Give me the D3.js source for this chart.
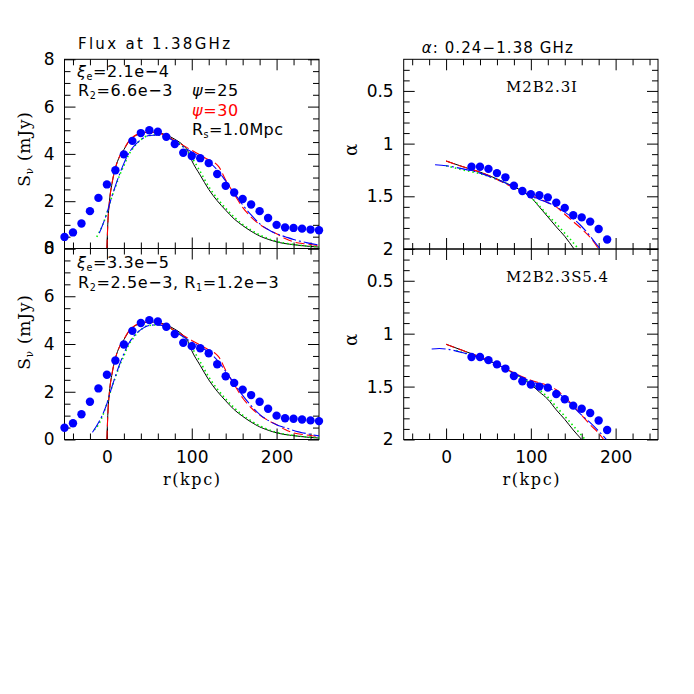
<!DOCTYPE html>
<html>
<head>
<meta charset="utf-8">
<script src="https://cdn.jsdelivr.net/npm/d3@7"></script>
<style>
  body { margin: 0; background: #fff; }
</style>
</head>
<body>
<div id="chart"></div>
<script>
// ---- data ----
// observed profile (blue dots), r in kpc
const fluxR = [-50,-40,-30,-20,-10,0,10,20,30,40,50,60,70,80,90,100,110,120,130,140,150,160,170,180,190,200,210,220,230,240,250];
const fluxObs = [0.49,0.68,1.06,1.58,2.14,2.71,3.31,3.98,4.55,4.88,5.0,4.94,4.72,4.42,4.05,3.91,3.82,3.61,3.15,2.65,2.37,2.09,1.86,1.58,1.29,1.0,0.89,0.87,0.84,0.8,0.77];

const alphaR = [30,40,50,60,70,80,90,100,110,120,130,140,150,160,170,180,190];
const alphaObsTop = [1.22,1.22,1.24,1.28,1.32,1.40,1.45,1.48,1.49,1.51,1.56,1.61,1.68,1.70,1.74,1.81,1.91];
const alphaObsBot = [1.22,1.22,1.25,1.29,1.33,1.40,1.45,1.48,1.50,1.51,1.57,1.62,1.68,1.71,1.75,1.82,1.91];

// model curves, [r, S] pairs
const fluxBlack = [[0,0],[1,1.0],[3,2.0],[6,2.75],[10,3.4],[15,3.9],[20,4.18],[25,4.48],[30,4.68],[40,4.86],[50,4.92],[60,4.9],[70,4.8],[80,4.62],[90,4.36],[95,4.15],[100,3.72],[110,3.1],[120,2.5],[130,2.02],[140,1.62],[150,1.25],[160,0.97],[170,0.73],[180,0.53],[190,0.39],[200,0.28],[220,0.16],[250,0.06]];
const fluxGreenTop = [[-12,0.49],[-5,1.0],[0,1.5],[5,2.1],[10,2.6],[15,3.1],[20,3.5],[25,3.92],[30,4.2],[40,4.6],[50,4.78],[60,4.8],[70,4.72],[80,4.55],[90,4.3],[100,3.85],[110,3.25],[120,2.62],[130,2.12],[140,1.7],[150,1.33],[160,1.02],[170,0.78],[180,0.57],[190,0.42],[200,0.3],[220,0.17],[250,0.07]];
const fluxRed = [[0,0],[1,1.0],[3,2.0],[6,2.75],[10,3.4],[15,3.9],[20,4.2],[25,4.5],[30,4.7],[40,4.88],[50,4.93],[60,4.9],[70,4.76],[80,4.56],[90,4.36],[100,4.15],[110,3.95],[120,3.75],[128,3.6],[132,3.45],[140,2.9],[150,2.3],[160,1.74],[170,1.33],[180,1.02],[190,0.8],[200,0.62],[210,0.42],[220,0.28],[235,0.19],[250,0.12]];
const fluxBlueTop = [[-9,0.65],[-5,1.0],[0,1.5],[5,2.1],[10,2.65],[15,3.15],[20,3.6],[25,3.98],[30,4.25],[40,4.6],[50,4.78],[60,4.8],[70,4.72],[80,4.52],[90,4.3],[100,4.08],[110,3.88],[120,3.66],[130,3.32],[140,2.85],[150,2.35],[160,1.85],[170,1.42],[180,1.05],[190,0.8],[200,0.62],[210,0.5],[220,0.38],[235,0.25],[250,0.15]];
const fluxGreenBot = [[-15,0.4],[-10,0.62],[-5,1.0],[0,1.5],[5,2.1],[10,2.6],[15,3.1],[20,3.5],[25,3.92],[30,4.2],[40,4.6],[50,4.78],[60,4.8],[70,4.72],[80,4.55],[90,4.3],[100,3.85],[110,3.25],[120,2.62],[130,2.12],[140,1.7],[150,1.33],[160,1.02],[170,0.78],[180,0.57],[190,0.42],[200,0.3],[220,0.17],[250,0.07]];
const fluxBlueBot = [[-17,0.3],[-10,0.7],[-5,1.05],[0,1.5],[5,2.1],[10,2.65],[15,3.15],[20,3.6],[25,3.98],[30,4.25],[40,4.6],[50,4.78],[60,4.8],[70,4.72],[80,4.52],[90,4.3],[100,4.08],[110,3.88],[120,3.66],[130,3.32],[140,2.85],[150,2.35],[160,1.85],[170,1.42],[180,1.05],[190,0.8],[200,0.62],[210,0.5],[220,0.38],[235,0.25],[250,0.15]];

// spectral index curves, [r, alpha] pairs
const alphaBlackTop = [[0,1.165],[20,1.22],[40,1.27],[60,1.335],[80,1.41],[90,1.45],[100,1.51],[110,1.6],[120,1.695],[130,1.79],[140,1.88],[151,2.0]];
const alphaGreenTop = [[0,1.21],[20,1.25],[40,1.285],[60,1.34],[80,1.41],[90,1.45],[100,1.51],[110,1.59],[120,1.68],[130,1.76],[140,1.85],[150,1.94],[156,2.0]];
const alphaRedTop = [[0,1.165],[20,1.22],[40,1.27],[60,1.34],[80,1.42],[100,1.49],[120,1.56],[130,1.6],[140,1.67],[150,1.74],[160,1.81],[170,1.89],[180,2.0]];
const alphaBlueTop = [[-13,1.2],[0,1.21],[20,1.24],[40,1.28],[60,1.34],[80,1.41],[90,1.45],[100,1.5],[110,1.53],[120,1.56],[130,1.6],[140,1.65],[150,1.71],[158,1.77],[166,1.84],[174,1.92],[182,2.0]];

const alphaBlackBot = [[0,1.10],[20,1.16],[40,1.22],[60,1.29],[80,1.375],[100,1.48],[110,1.55],[120,1.62],[130,1.72],[140,1.81],[150,1.91],[160,2.0]];
const alphaGreenBot = [[12,1.16],[20,1.18],[40,1.22],[60,1.29],[80,1.375],[100,1.47],[110,1.53],[120,1.6],[130,1.69],[140,1.78],[150,1.87],[164,2.0]];
const alphaRedBot = [[0,1.10],[20,1.16],[40,1.22],[60,1.29],[80,1.37],[100,1.44],[120,1.49],[130,1.53],[140,1.6],[150,1.68],[160,1.77],[170,1.86],[180,1.94],[186,2.0]];
const alphaBlueBot = [[-17,1.145],[-8,1.14],[0,1.145],[10,1.16],[20,1.18],[40,1.23],[60,1.29],[80,1.375],[100,1.45],[120,1.51],[130,1.55],[140,1.61],[150,1.69],[160,1.77],[170,1.84],[180,1.92],[189,2.0]];

// ticks
const rMajor = [0,100,200];
const rMinor = [-40,-20,20,40,60,80,120,140,160,180,220,240];
const fluxMajor = [0,2,4,6,8];
const fluxMinor = [0.5,1,1.5,2.5,3,3.5,4.5,5,5.5,6.5,7,7.5];
const alphaMajor = [0.5,1,1.5,2];
const alphaMinor = [0.3,0.4,0.6,0.7,0.8,0.9,1.1,1.2,1.3,1.4,1.6,1.7,1.8,1.9];

// ---- drawing ----
const W = 694, H = 694;
const sans = "DejaVu Sans, sans-serif";
const serif = "DejaVu Serif, serif";

const svg = d3.select("#chart").append("svg")
    .attr("width", W).attr("height", H)
    .style("background", "#fff");

const styles = {
    black: { stroke: "#000", width: 1, dash: null },
    green: { stroke: "#00ee00", width: 1.6, dash: "1.5,3" },
    red:   { stroke: "#ff0000", width: 1.1, dash: "9,4" },
    blue:  { stroke: "#0000ff", width: 1.1, dash: "14,3,2,3" }
};

let clipId = 0;

function drawPanel(p) {
    const x = p.x, y = p.y;
    const [x0, x1] = x.range();
    const [yb, yt] = y.range();
    const g = svg.append("g");

    // clip region
    const id = "clip" + (clipId++);
    svg.append("clipPath").attr("id", id)
        .append("rect").attr("x", x0).attr("y", yt).attr("width", x1 - x0).attr("height", yb - yt);

    // ticks, all pointing inward
    function tickSet(axis, scale, values, size, transform, fmt, pad) {
        const a = g.append("g")
            .attr("transform", transform)
            .call(axis(scale).tickValues(values).tickSize(-size).tickPadding(pad || 10)
                .tickFormat(fmt || ""));
        a.select(".domain").remove();
        a.selectAll("line").attr("stroke", "#000").attr("stroke-width", 1);
        a.selectAll("text").attr("font-family", sans).attr("font-size", 17).attr("fill", "#000");
        return a;
    }
    tickSet(d3.axisBottom, x, p.xMinor, 6, `translate(0,${yb})`);
    tickSet(d3.axisBottom, x, p.xMajor, 11, `translate(0,${yb})`, p.showX ? d3.format("d") : "", 11);
    tickSet(d3.axisTop, x, p.xMinor, 6, `translate(0,${yt})`);
    tickSet(d3.axisTop, x, p.xMajor, 11, `translate(0,${yt})`);
    tickSet(d3.axisLeft, y, p.yMinor, 6, `translate(${x0},0)`);
    tickSet(d3.axisLeft, y, p.yMajor, 11, `translate(${x0},0)`, d3.format("~g"), 10);
    tickSet(d3.axisRight, y, p.yMinor, 6, `translate(${x1},0)`);
    tickSet(d3.axisRight, y, p.yMajor, 11, `translate(${x1},0)`);

    // frame
    g.append("rect")
        .attr("x", x0).attr("y", yt).attr("width", x1 - x0).attr("height", yb - yt)
        .attr("fill", "none").attr("stroke", "#000").attr("stroke-width", 1);

    const plot = g.append("g").attr("clip-path", `url(#${id})`);
    const line = d3.line().x(d => x(d[0])).y(d => y(d[1])).curve(d3.curveMonotoneX);

    p.series.forEach(s => {
        const st = styles[s.style];
        plot.append("path")
            .datum(s.data)
            .attr("d", line)
            .attr("fill", "none")
            .attr("stroke", st.stroke)
            .attr("stroke-width", st.width)
            .attr("stroke-dasharray", st.dash);
    });

    g.selectAll("circle.obs")
        .data(p.obsR.map((r, i) => [r, p.obsV[i]]))
        .join("circle")
        .attr("class", "obs")
        .attr("cx", d => x(d[0]))
        .attr("cy", d => y(d[1]))
        .attr("r", 4.2)
        .attr("fill", "#0000ff");
    return g;
}

const xL = d3.scaleLinear().domain([-50, 250]).range([64.5, 319]);
const xR = d3.scaleLinear().domain([-50, 250]).range([403.7, 658]);
const yFluxTop = d3.scaleLinear().domain([0, 8]).range([248.5, 59.3]);
const yFluxBot = d3.scaleLinear().domain([0, 8]).range([439.5, 248.5]);
const yAlphaTop = d3.scaleLinear().domain([2, 0.2]).range([249, 59.3]);
const yAlphaBot = d3.scaleLinear().domain([2, 0.2]).range([439.5, 249]);

drawPanel({
    x: xL, y: yFluxTop, xMajor: rMajor, xMinor: rMinor, yMajor: fluxMajor, yMinor: fluxMinor, showX: false,
    series: [
        { data: fluxBlack, style: "black" },
        { data: fluxGreenTop, style: "green" },
        { data: fluxRed, style: "red" },
        { data: fluxBlueTop, style: "blue" }
    ],
    obsR: fluxR, obsV: fluxObs
});
drawPanel({
    x: xL, y: yFluxBot, xMajor: rMajor, xMinor: rMinor, yMajor: fluxMajor, yMinor: fluxMinor, showX: true,
    series: [
        { data: fluxBlack, style: "black" },
        { data: fluxGreenBot, style: "green" },
        { data: fluxRed, style: "red" },
        { data: fluxBlueBot, style: "blue" }
    ],
    obsR: fluxR, obsV: fluxObs
});
drawPanel({
    x: xR, y: yAlphaTop, xMajor: rMajor, xMinor: rMinor, yMajor: alphaMajor, yMinor: alphaMinor, showX: false,
    series: [
        { data: alphaBlackTop, style: "black" },
        { data: alphaGreenTop, style: "green" },
        { data: alphaRedTop, style: "red" },
        { data: alphaBlueTop, style: "blue" }
    ],
    obsR: alphaR, obsV: alphaObsTop
});
drawPanel({
    x: xR, y: yAlphaBot, xMajor: rMajor, xMinor: rMinor, yMajor: alphaMajor, yMinor: alphaMinor, showX: true,
    series: [
        { data: alphaBlackBot, style: "black" },
        { data: alphaGreenBot, style: "green" },
        { data: alphaRedBot, style: "red" },
        { data: alphaBlueBot, style: "blue" }
    ],
    obsR: alphaR, obsV: alphaObsBot
});

// ---- text ----
function label(xp, yp, str, opt) {
    opt = opt || {};
    const t = svg.append("text")
        .attr("x", xp).attr("y", yp)
        .attr("font-family", opt.font || sans)
        .attr("font-size", opt.size || 16)
        .attr("fill", opt.color || "#000")
        .text(str);
    if (opt.len) t.attr("textLength", opt.len).attr("lengthAdjust", "spacing");
    if (opt.anchor) t.attr("text-anchor", opt.anchor);
    return t;
}

// text made of parts; a part may be a subscript
function subText(xp, yp, parts, opt) {
    opt = opt || {};
    const t = svg.append("text")
        .attr("x", xp).attr("y", yp)
        .attr("font-family", opt.font || sans)
        .attr("font-size", opt.size || 16)
        .attr("fill", opt.color || "#000")
        .attr("letter-spacing", opt.ls || 0);
    if (opt.anchor) t.attr("text-anchor", opt.anchor);
    if (opt.rotate) t.attr("transform", `rotate(-90,${xp},${yp})`);
    parts.forEach(pt => {
        const ts = t.append("tspan").text(pt.t);
        if (pt.sub) ts.attr("font-size", (opt.size || 16) * 0.6).attr("dy", 3);
        if (pt.up) ts.attr("dy", -3);
        if (pt.it) ts.attr("font-style", "italic");
    });
    return t;
}

label(78, 49, "Flux at 1.38GHz", { size: 15, len: 152 });
subText(421.7, 53, [{ t: "α", it: true }, { t: ": 0.24−1.38 GHz" }], { size: 15, ls: 1.1 });

// top-left annotations
subText(77, 77, [{ t: "ξ", it: true }, { t: "e", sub: true }, { t: "=2.1e−4", up: true }], { size: 16, ls: 0.6 });
subText(78, 96, [{ t: "R" }, { t: "2", sub: true }, { t: "=6.6e−3", up: true }], { size: 16, ls: 0.6 });
subText(192, 96, [{ t: "ψ", it: true }, { t: "=25" }], { size: 16, ls: 0.6 });
subText(192, 116, [{ t: "ψ", it: true }, { t: "=30" }], { size: 16, ls: 0.6, color: "#ff0000" });
subText(192, 135, [{ t: "R" }, { t: "s", sub: true }, { t: "=1.0Mpc", up: true }], { size: 16, ls: 0.4 });

// bottom-left annotations
subText(77, 268, [{ t: "ξ", it: true }, { t: "e", sub: true }, { t: "=3.3e−5", up: true }], { size: 16, ls: 0.6 });
subText(78, 288, [{ t: "R" }, { t: "2", sub: true }, { t: "=2.5e−3,  R", up: true }, { t: "1", sub: true }, { t: "=1.2e−3", up: true }], { size: 16, ls: 0.6 });

// right annotations
label(506, 92, "M2B2.3I", { font: serif, size: 15, len: 71 });
label(506, 282, "M2B2.3S5.4", { font: serif, size: 15, len: 102 });

// axis titles
subText(30, 149, [{ t: "S" }, { t: "ν", sub: true }, { t: " (mJy)", up: true }], { font: serif, size: 17, anchor: "middle", rotate: true, ls: 0.8 });
subText(30, 332, [{ t: "S" }, { t: "ν", sub: true }, { t: " (mJy)", up: true }], { font: serif, size: 17, anchor: "middle", rotate: true, ls: 0.8 });
subText(357, 150, [{ t: "α" }], { font: serif, size: 18, anchor: "middle", rotate: true });
subText(357, 340, [{ t: "α" }], { font: serif, size: 18, anchor: "middle", rotate: true });

label(191.5, 485, "r(kpc)", { font: serif, size: 16, len: 57, anchor: "middle" });
label(531, 485, "r(kpc)", { font: serif, size: 16, len: 57, anchor: "middle" });
</script>
</body>
</html>
